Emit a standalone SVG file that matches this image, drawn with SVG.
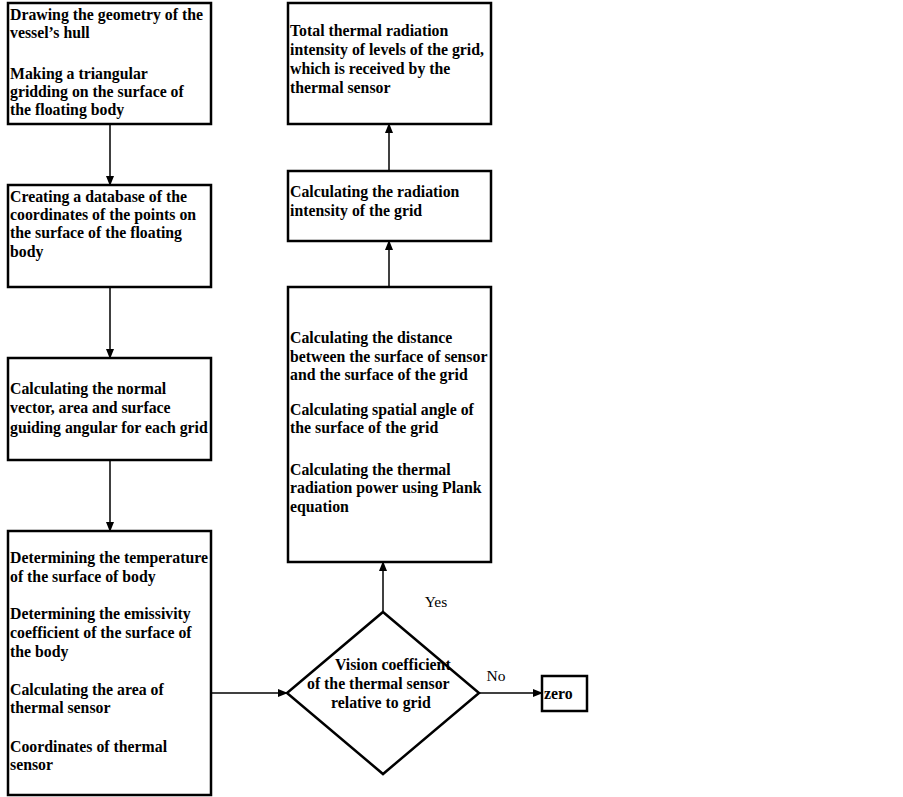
<svg xmlns="http://www.w3.org/2000/svg" width="903" height="797" viewBox="0 0 903 797">
<style>
.box{fill:#fff;stroke:#000;stroke-width:2.5}
.t{font-family:"Liberation Serif","DejaVu Serif",serif;font-weight:bold;font-size:15.8px;fill:#000}
.l{font-family:"Liberation Serif","DejaVu Serif",serif;font-size:15.5px;fill:#000}
.c{stroke:#000;stroke-width:1.5;fill:none;marker-end:url(#ah)}
</style>
<defs>
<marker id="ah" markerWidth="10" markerHeight="8" refX="9" refY="4" orient="auto" markerUnits="userSpaceOnUse">
<path d="M0,0 L10,4 L0,8 Z" fill="#000"/>
</marker>
</defs>
<rect width="903" height="797" fill="#fff"/>
<g id="connectors">
<line class="c" x1="110" y1="125" x2="110" y2="185"/>
<line class="c" x1="110" y1="287" x2="110" y2="358"/>
<line class="c" x1="110" y1="460" x2="110" y2="531"/>
<line class="c" x1="211" y1="693" x2="287" y2="693"/>
<line class="c" x1="383" y1="612" x2="383" y2="562"/>
<line class="c" x1="389" y1="287" x2="389" y2="241"/>
<line class="c" x1="389" y1="171" x2="389" y2="124"/>
<line class="c" x1="479" y1="693" x2="542" y2="693"/>
<text class="l" x="436" y="607" text-anchor="middle">Yes</text>
<text class="l" x="496" y="681" text-anchor="middle">No</text>
</g>
<g id="n1">
<rect class="box" x="8" y="3" width="203" height="121"/>
<text class="t" x="10" y="20">Drawing the geometry of the</text>
<text class="t" x="10" y="38">vessel’s hull</text>
<text class="t" x="10" y="79">Making a triangular</text>
<text class="t" x="10" y="97">gridding on the surface of</text>
<text class="t" x="10" y="115">the floating body</text>
</g>
<g id="n2">
<rect class="box" x="8" y="185" width="203" height="102"/>
<text class="t" x="10" y="202">Creating a database of the</text>
<text class="t" x="10" y="220">coordinates of the points on</text>
<text class="t" x="10" y="238">the surface of the floating</text>
<text class="t" x="10" y="257">body</text>
</g>
<g id="n3">
<rect class="box" x="8" y="358" width="203" height="102"/>
<text class="t" x="10" y="394">Calculating the normal</text>
<text class="t" x="10" y="413">vector, area and surface</text>
<text class="t" x="10" y="433">guiding angular for each grid</text>
</g>
<g id="n4">
<rect class="box" x="8" y="531" width="203" height="264"/>
<text class="t" x="10" y="563">Determining the temperature</text>
<text class="t" x="10" y="582">of the surface of body</text>
<text class="t" x="10" y="619">Determining the emissivity</text>
<text class="t" x="10" y="638">coefficient of the surface of</text>
<text class="t" x="10" y="657">the body</text>
<text class="t" x="10" y="695">Calculating the area of</text>
<text class="t" x="10" y="713">thermal sensor</text>
<text class="t" x="10" y="752">Coordinates of thermal</text>
<text class="t" x="10" y="770">sensor</text>
</g>
<g id="n5">
<polygon class="box" points="383,612 479,693 383,774 287,693"/>
<text class="t" x="335" y="670">Vision coefficient</text>
<text class="t" x="307" y="689">of the thermal sensor</text>
<text class="t" x="331" y="708">relative to grid</text>
</g>
<g id="n6">
<rect class="box" x="542" y="676" width="45" height="35"/>
<text class="t" x="544" y="699">zero</text>
</g>
<g id="n7">
<rect class="box" x="288" y="287" width="203" height="275"/>
<text class="t" x="290" y="343">Calculating the distance</text>
<text class="t" x="290" y="362">between the surface of sensor</text>
<text class="t" x="290" y="380">and the surface of the grid</text>
<text class="t" x="290" y="415">Calculating spatial angle of</text>
<text class="t" x="290" y="433">the surface of the grid</text>
<text class="t" x="290" y="475">Calculating the thermal</text>
<text class="t" x="290" y="493">radiation power using Plank</text>
<text class="t" x="290" y="512">equation</text>
</g>
<g id="n8">
<rect class="box" x="288" y="171" width="203" height="70"/>
<text class="t" x="290" y="197">Calculating the radiation</text>
<text class="t" x="290" y="216">intensity of the grid</text>
</g>
<g id="n9">
<rect class="box" x="288" y="3" width="203" height="121"/>
<text class="t" x="290" y="36">Total thermal radiation</text>
<text class="t" x="290" y="55">intensity of levels of the grid,</text>
<text class="t" x="290" y="74">which is received by the</text>
<text class="t" x="290" y="93">thermal sensor</text>
</g>
</svg>
